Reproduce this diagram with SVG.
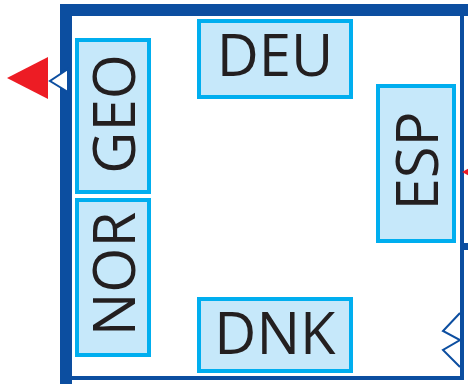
<svg xmlns="http://www.w3.org/2000/svg" width="468" height="384" viewBox="0 0 468 384">
<style>
.frame{fill:#0c4ea0}
.node rect{fill:#c6e8fa;stroke:#00aeef;stroke-width:4}
.node text{font-family:"Open Sans","Liberation Sans",sans-serif;font-size:58px;fill:#231f20;text-anchor:middle}
.arrow{fill:#ed1c24}
.chev{fill:#ffffff;stroke:#0c4ea0;stroke-width:2;stroke-linejoin:miter}
</style>
<rect width="468" height="384" fill="#ffffff"/>
<g id="frame">
<rect class="frame" x="60" y="4" width="408" height="12"/>
<rect class="frame" x="60" y="4" width="12" height="380"/>
<rect class="frame" x="460" y="16" width="4" height="364"/>
<rect class="frame" x="72" y="376" width="392" height="4"/>
</g>
<g id="connectors">
<polygon class="arrow" points="7,78 48,57 48,99"/>
<polygon class="chev" points="68,69 50,81 68,92"/>
<polygon class="arrow" points="462,172 475,165 475,179"/>
<rect class="frame" x="462" y="243" width="6" height="7"/>
<polyline class="chev" points="460,313 443,331 460,340 443,350 460,367"/>
</g>
<g id="GEO" class="node">
<rect x="77" y="40" width="72" height="152"/>
<text transform="translate(134.5,114) rotate(-90)">GEO</text>
</g>
<g id="NOR" class="node">
<rect x="77" y="200" width="72" height="155"/>
<text transform="translate(134.5,274) rotate(-90)">NOR</text>
</g>
<g id="DEU" class="node">
<rect x="199" y="21" width="152" height="76"/>
<text x="275" y="76">DEU</text>
</g>
<g id="DNK" class="node">
<rect x="199" y="299" width="152" height="72"/>
<text x="275" y="354">DNK</text>
</g>
<g id="ESP" class="node">
<rect x="378" y="86" width="76" height="155"/>
<text transform="translate(437.5,161) rotate(-90)">ESP</text>
</g>
</svg>
